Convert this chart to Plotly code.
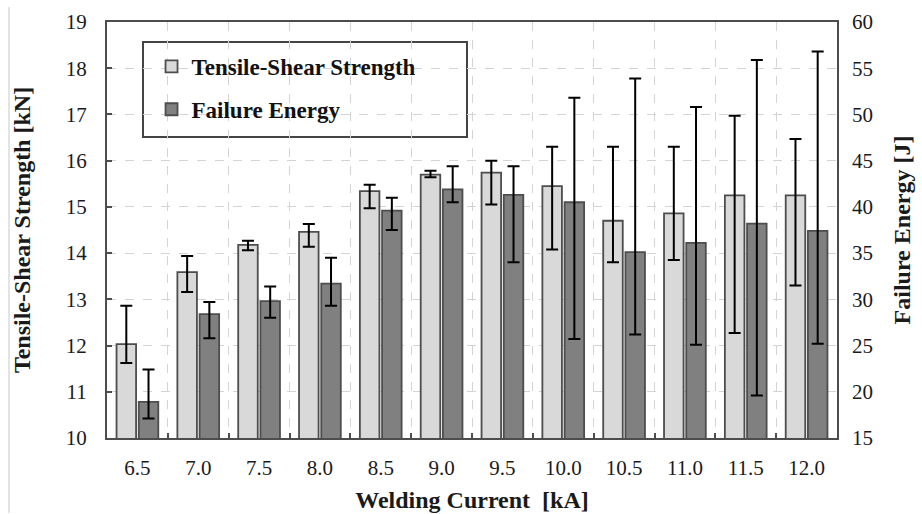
import plotly.graph_objects as go

currents = ["6.5", "7.0", "7.5", "8.0", "8.5", "9.0", "9.5", "10.0", "10.5", "11.0", "11.5", "12.0"]

tss = [12.03, 13.59, 14.18, 14.46, 15.34, 15.70, 15.74, 15.45, 14.70, 14.86, 15.25, 15.25]
tss_hi = [12.86, 13.94, 14.27, 14.63, 15.48, 15.78, 16.00, 16.30, 16.30, 16.30, 16.97, 16.47]
tss_lo = [11.62, 13.16, 14.06, 14.14, 14.97, 15.64, 15.05, 14.08, 13.80, 13.85, 12.27, 13.30]

fe = [18.9, 28.4, 29.8, 31.7, 39.6, 41.9, 41.3, 40.5, 35.1, 36.1, 38.2, 37.4]
fe_hi = [22.4, 29.7, 31.4, 34.5, 41.0, 44.4, 44.4, 51.8, 53.9, 50.8, 55.9, 56.8]
fe_lo = [17.1, 25.8, 28.0, 29.3, 37.5, 40.5, 34.0, 25.7, 26.2, 25.1, 19.6, 25.2]

FONT = "Liberation Serif"
EDGE = "#4d4d4d"

fig = go.Figure()
fig.add_trace(go.Bar(
    x=currents, y=tss, name="Tensile-Shear Strength", offsetgroup="a",
    legendgroup="a",
    marker=dict(color="#d9d9d9", line=dict(color=EDGE, width=1.8)),
    error_y=dict(type="data", symmetric=False,
                 array=[h - v for h, v in zip(tss_hi, tss)],
                 arrayminus=[v - l for v, l in zip(tss, tss_lo)],
                 color="black", thickness=2, width=6),
    yaxis="y",
))
fig.add_trace(go.Bar(
    x=currents, y=fe, name="Failure Energy", offsetgroup="b",
    legendgroup="b",
    marker=dict(color="#808080", line=dict(color=EDGE, width=1.8)),
    error_y=dict(type="data", symmetric=False,
                 array=[h - v for h, v in zip(fe_hi, fe)],
                 arrayminus=[v - l for v, l in zip(fe, fe_lo)],
                 color="black", thickness=2, width=6),
    yaxis="y2",
))

fig.update_layout(
    width=922, height=514,
    margin=dict(l=107, r=85, t=22, b=76, autoexpand=False),
    paper_bgcolor="white", plot_bgcolor="white",
    barmode="group", bargap=0.27, bargroupgap=0.12,
    font=dict(family=FONT, size=20, color="#1a1a1a"),
    showlegend=True,
    legend=dict(
        x=0.061, y=0.945, xanchor="left", yanchor="top",
        bgcolor="rgba(0,0,0,0)", borderwidth=0,
        font=dict(family=FONT, size=23, color="#111111", weight="bold"),
        traceorder="grouped", tracegroupgap=10,
        itemwidth=30,
    ),
    xaxis=dict(
        type="category", automargin=False,
        showline=True, linecolor=EDGE, linewidth=2, mirror=True,
        ticks="inside", ticklen=5, tickcolor=EDGE, tickwidth=2,
        tickson="boundaries",
        showgrid=True, gridcolor="#d4d4d4", griddash="dash", gridwidth=1,
        tickfont=dict(family=FONT, size=21),
        ticklabelstandoff=10,
        title=dict(text="Welding Current  [kA]", standoff=12,
                   font=dict(family=FONT, size=24, weight="bold")),
    ),
    yaxis=dict(
        range=[10, 19], dtick=1, automargin=False,
        showline=True, linecolor=EDGE, linewidth=2, mirror=True,
        ticks="inside", ticklen=5, tickcolor=EDGE, tickwidth=2,
        showgrid=True, gridcolor="#d4d4d4", griddash="dash", gridwidth=1,
        zeroline=False,
        tickfont=dict(family=FONT, size=21),
        ticklabelstandoff=14,
        title=dict(text="Tensile-Shear Strength [kN]", standoff=28,
                   font=dict(family=FONT, size=24, weight="bold")),
    ),
    yaxis2=dict(
        range=[15, 60], dtick=5, overlaying="y", side="right", automargin=False,
        showline=False, showgrid=False, zeroline=False,
        ticks="", tickfont=dict(family=FONT, size=21),
        ticklabelstandoff=14,
        title=dict(text="Failure Energy [J]", standoff=21,
                   font=dict(family=FONT, size=24, weight="bold")),
    ),
    shapes=[
        dict(type="rect", xref="paper", yref="paper",
             x0=(143 - 107) / 730, x1=(467 - 107) / 730,
             y0=(438 - 137) / 416, y1=(438 - 42) / 416,
             line=dict(color="#444444", width=2), fillcolor="white", layer="below"),
        dict(type="line", xref="paper", yref="paper",
             x0=(9 - 107) / 730, x1=(9 - 107) / 730,
             y0=(438 - 513) / 416, y1=(438 - 7) / 416,
             line=dict(color="#c8c8c8", width=1)),
    ],
)

fig.write_html("out.html")
